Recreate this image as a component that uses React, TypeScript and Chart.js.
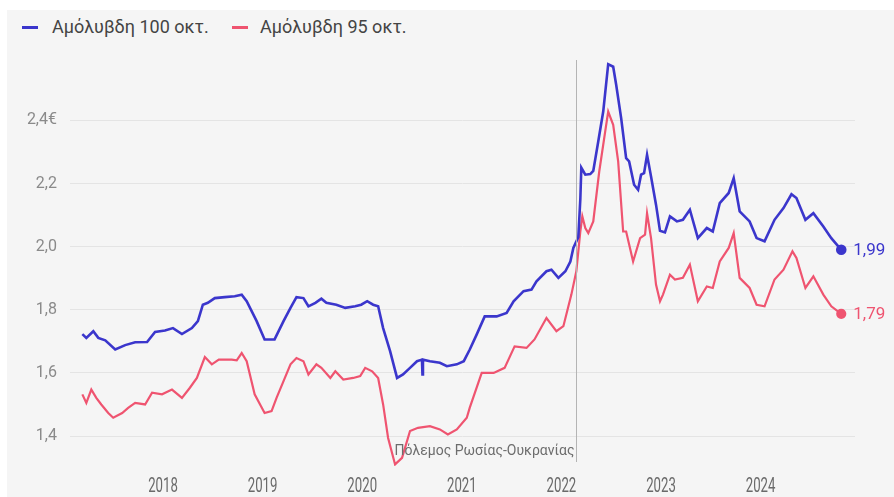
import React, { useEffect, useRef } from 'react';
import { Chart, registerables } from 'chart.js';

Chart.register(...registerables);

const seriesNames = ['Αμόλυβδη 100 οκτ.', 'Αμόλυβδη 95 οκτ.'];
const yearTicks = [2018, 2019, 2020, 2021, 2022, 2023, 2024];
const valueTicks = [1.4, 1.6, 1.8, 2.0, 2.2, 2.4];
const warDate = 2022.15;
const warLabel = 'Πόλεμος Ρωσίας-Ουκρανίας';

const dates100 = [
  2017.19, 2017.23, 2017.30, 2017.35, 2017.42, 2017.52, 2017.62, 2017.72, 2017.84, 2017.92,
  2018.02, 2018.10, 2018.19, 2018.29, 2018.35, 2018.40, 2018.45, 2018.52, 2018.62, 2018.72,
  2018.79, 2018.84, 2018.94, 2019.02, 2019.12, 2019.21, 2019.28, 2019.34, 2019.41, 2019.46,
  2019.53, 2019.59, 2019.64, 2019.74, 2019.83, 2019.93, 2019.99, 2020.05, 2020.11, 2020.16,
  2020.21, 2020.28, 2020.35, 2020.41, 2020.48, 2020.55, 2020.60, 2020.605, 2020.61, 2020.68,
  2020.78, 2020.85, 2020.95, 2021.02, 2021.08, 2021.15, 2021.23, 2021.35, 2021.45, 2021.52,
  2021.62, 2021.70, 2021.75, 2021.85, 2021.90, 2021.97, 2022.04, 2022.09, 2022.12, 2022.17,
  2022.19, 2022.20, 2022.24, 2022.29, 2022.32, 2022.37, 2022.42, 2022.47, 2022.52, 2022.55,
  2022.60, 2022.65, 2022.68, 2022.73, 2022.77, 2022.80, 2022.83, 2022.86, 2022.90, 2022.95,
  2022.99, 2023.04, 2023.09, 2023.16, 2023.22, 2023.29, 2023.37, 2023.46, 2023.52, 2023.59,
  2023.68, 2023.73, 2023.79, 2023.89, 2023.96, 2024.04, 2024.14, 2024.23, 2024.31, 2024.36,
  2024.45, 2024.53, 2024.63, 2024.71, 2024.81,
];
const values100 = [
  1.723, 1.711, 1.732, 1.711, 1.703, 1.674, 1.688, 1.697, 1.698, 1.730,
  1.734, 1.742, 1.723, 1.742, 1.764, 1.816, 1.822, 1.837, 1.840, 1.843,
  1.848, 1.827, 1.764, 1.706, 1.706, 1.764, 1.806, 1.840, 1.837, 1.811,
  1.822, 1.835, 1.822, 1.816, 1.806, 1.811, 1.816, 1.827, 1.816, 1.811,
  1.742, 1.669, 1.584, 1.595, 1.616, 1.637, 1.642, 1.595, 1.642, 1.637,
  1.632, 1.621, 1.627, 1.637, 1.674, 1.722, 1.779, 1.779, 1.790, 1.827,
  1.859, 1.864, 1.890, 1.922, 1.927, 1.901, 1.922, 1.953, 1.996, 2.030,
  2.150, 2.250, 2.228, 2.230, 2.240, 2.333, 2.428, 2.578, 2.570, 2.513,
  2.407, 2.280, 2.270, 2.196, 2.180, 2.228, 2.233, 2.291, 2.222, 2.133,
  2.050, 2.045, 2.096, 2.080, 2.085, 2.117, 2.027, 2.059, 2.048, 2.138,
  2.170, 2.217, 2.112, 2.080, 2.027, 2.017, 2.085, 2.122, 2.166, 2.154,
  2.085, 2.106, 2.064, 2.027, 1.99,
];

const dates95 = [
  2017.19, 2017.23, 2017.28, 2017.33, 2017.38, 2017.45, 2017.50, 2017.59, 2017.65, 2017.72,
  2017.82, 2017.89, 2017.99, 2018.09, 2018.19, 2018.27, 2018.34, 2018.42, 2018.49, 2018.56,
  2018.69, 2018.74, 2018.79, 2018.84, 2018.92, 2019.02, 2019.09, 2019.14, 2019.21, 2019.28,
  2019.34, 2019.41, 2019.46, 2019.54, 2019.59, 2019.68, 2019.73, 2019.81, 2019.91, 2019.98,
  2020.03, 2020.10, 2020.16, 2020.21, 2020.26, 2020.33, 2020.40, 2020.48, 2020.56, 2020.68,
  2020.78, 2020.86, 2020.95, 2021.05, 2021.08, 2021.20, 2021.32, 2021.43, 2021.53, 2021.65,
  2021.73, 2021.85, 2021.95, 2022.02, 2022.10, 2022.15, 2022.19, 2022.21, 2022.24, 2022.27,
  2022.32, 2022.38, 2022.44, 2022.47, 2022.52, 2022.57, 2022.62, 2022.65, 2022.72, 2022.79,
  2022.84, 2022.86, 2022.90, 2022.95, 2022.99, 2023.02, 2023.09, 2023.14, 2023.22, 2023.29,
  2023.37, 2023.46, 2023.52, 2023.59, 2023.68, 2023.73, 2023.79, 2023.89, 2023.96, 2024.04,
  2024.14, 2024.23, 2024.32, 2024.36, 2024.45, 2024.53, 2024.63, 2024.71, 2024.81,
];
const values95 = [
  1.532, 1.505, 1.547, 1.521, 1.500, 1.473, 1.458, 1.473, 1.489, 1.505,
  1.500, 1.537, 1.532, 1.547, 1.521, 1.553, 1.584, 1.650, 1.627, 1.642,
  1.642, 1.640, 1.663, 1.637, 1.532, 1.473, 1.479, 1.521, 1.574, 1.627,
  1.647, 1.637, 1.595, 1.627, 1.616, 1.584, 1.605, 1.579, 1.584, 1.590,
  1.616, 1.605, 1.584, 1.500, 1.394, 1.310, 1.331, 1.416, 1.426, 1.431,
  1.421, 1.405, 1.421, 1.458, 1.490, 1.600, 1.600, 1.616, 1.684, 1.679,
  1.706, 1.774, 1.732, 1.748, 1.848, 1.922, 2.048, 2.096, 2.059, 2.043,
  2.080, 2.238, 2.365, 2.428, 2.386, 2.270, 2.048, 2.048, 1.953, 2.027,
  2.038, 2.106, 2.027, 1.880, 1.827, 1.848, 1.911, 1.896, 1.901, 1.943,
  1.827, 1.874, 1.869, 1.953, 1.996, 2.043, 1.901, 1.869, 1.816, 1.811,
  1.896, 1.927, 1.985, 1.964, 1.869, 1.906, 1.848, 1.811, 1.787,
];

const BLUE = '#3b36cc';
const RED = '#ef5470';

const fmt = (v: number, d: number) => v.toFixed(d).replace('.', ',');

const overlayPlugin = {
  id: 'overlay',
  afterDatasetsDraw(chart: any) {
    const { ctx, chartArea, scales } = chart;
    const x = scales.x;
    ctx.save();
    // war annotation
    const wx = Math.round(x.getPixelForValue(warDate)) + 0.5;
    ctx.strokeStyle = '#b4b4b4';
    ctx.lineWidth = 1;
    ctx.beginPath();
    ctx.moveTo(wx, chartArea.top + 4);
    ctx.lineTo(wx, chartArea.bottom - 4);
    ctx.stroke();
    ctx.fillStyle = '#6d6d6d';
    ctx.font = '14px Roboto';
    ctx.textAlign = 'right';
    ctx.textBaseline = 'alphabetic';
    ctx.fillText(warLabel, wx - 2, chartArea.bottom - 11);
    // end labels
    chart.data.datasets.forEach((ds: any, i: number) => {
      const meta = chart.getDatasetMeta(i);
      const pt = meta.data[meta.data.length - 1];
      const last = ds.data[ds.data.length - 1].y;
      ctx.fillStyle = ds.borderColor;
      ctx.font = '17px Roboto';
      ctx.textAlign = 'left';
      ctx.textBaseline = 'middle';
      ctx.fillText(fmt(last, 2), pt.x + 12, pt.y + 1);
    });
    // x year labels (condensed)
    ctx.fillStyle = '#6a6a6a';
    ctx.font = '20px Roboto';
    ctx.textAlign = 'center';
    ctx.textBaseline = 'middle';
    yearTicks.forEach((yr) => {
      const px = x.getPixelForValue(yr);
      ctx.save();
      ctx.translate(px, chartArea.bottom + 21);
      ctx.scale(0.66, 1);
      ctx.fillText(String(yr), 0, 0);
      ctx.restore();
    });
    ctx.restore();
  },
};

function ChartView() {
  const ref = useRef<HTMLCanvasElement | null>(null);
  useEffect(() => {
    if (!ref.current) return;
    const mk = (dates: number[], vals: number[]) => dates.map((d, i) => ({ x: d, y: vals[i] }));
    const chart = new Chart(ref.current, {
      type: 'line',
      data: {
        datasets: [
          {
            label: seriesNames[0],
            data: mk(dates100, values100),
            borderColor: BLUE,
            backgroundColor: BLUE,
            borderWidth: 2.6,
            tension: 0,
            pointRadius: (c: any) => (c.dataIndex === dates100.length - 1 ? 4 : 0),
            pointHoverRadius: 0,
          },
          {
            label: seriesNames[1],
            data: mk(dates95, values95),
            borderColor: RED,
            backgroundColor: RED,
            borderWidth: 2.2,
            tension: 0,
            pointRadius: (c: any) => (c.dataIndex === dates95.length - 1 ? 4 : 0),
            pointHoverRadius: 0,
          },
        ],
      },
      options: {
        responsive: false,
        animation: false,
        events: [],
        layout: { padding: { top: 56, right: 39, bottom: 0, left: 0 } },
        plugins: { legend: { display: false }, tooltip: { enabled: false } },
        scales: {
          x: {
            type: 'linear',
            min: 2017.066,
            max: 2024.948,
            grid: { display: false },
            border: { display: false },
            ticks: { display: false },
            afterBuildTicks: (s: any) => {
              s.ticks = yearTicks.map((v) => ({ value: v }));
            },
            afterFit: (s: any) => {
              s.height = 31;
            },
          },
          y: {
            type: 'linear',
            min: 1.305,
            max: 2.604,
            border: { display: false },
            grid: { color: '#e4e4e4', lineWidth: 1, drawTicks: false },
            afterBuildTicks: (s: any) => {
              s.ticks = valueTicks.map((v) => ({ value: v }));
            },
            afterFit: (s: any) => {
              s.width = 70;
            },
            ticks: {
              padding: 13,
              color: '#8a8a8a',
              font: { family: 'Roboto', size: 16 },
              callback: (v: any) => (Math.abs(v - 2.4) < 1e-6 ? '2,4€' : fmt(Number(v), 1)),
            },
          },
        },
      },
      plugins: [overlayPlugin],
    } as any);
    return () => chart.destroy();
  }, []);
  return <canvas ref={ref} width={894} height={497} style={{ position: 'absolute', left: 0, top: 0 }} />;
}

function Legend() {
  const items = [
    { name: seriesNames[0], color: BLUE, sx: 22, tx: 52 },
    { name: seriesNames[1], color: RED, sx: 232, tx: 260 },
  ];
  return (
    <>
      {items.map((it) => (
        <React.Fragment key={it.name}>
          <div style={{ position: 'absolute', left: it.sx, top: 26, width: 16, height: 3, background: it.color }} />
          <div
            style={{
              position: 'absolute',
              left: it.tx,
              top: 16,
              height: 22,
              lineHeight: '22px',
              fontFamily: 'Roboto',
              fontSize: 18,
              color: '#444',
              whiteSpace: 'nowrap',
            }}
          >
            {it.name}
          </div>
        </React.Fragment>
      ))}
    </>
  );
}

export default function App() {
  return (
    <div style={{ position: 'fixed', left: 0, top: 0, width: 894, height: 497, background: '#ffffff', overflow: 'hidden' }}>
      <div style={{ position: 'absolute', left: 7, top: 10, right: 0, bottom: 0, background: '#f5f5f5' }} />
      <Legend />
      <ChartView />
    </div>
  );
}
